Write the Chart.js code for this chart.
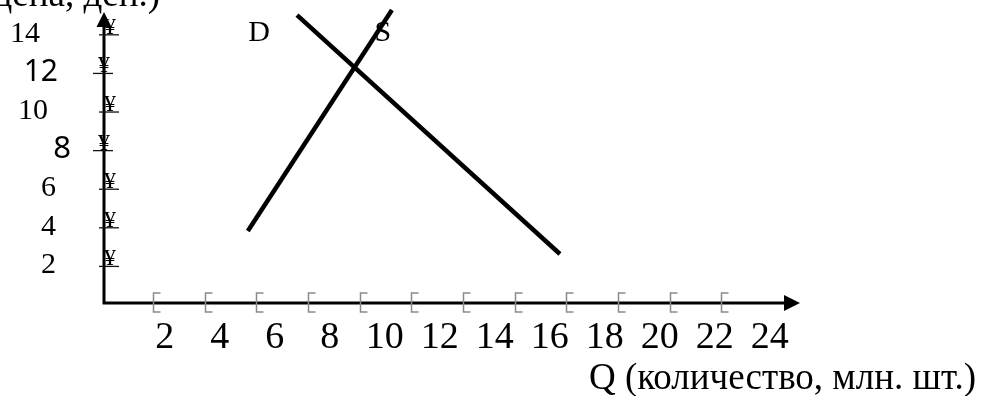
<!DOCTYPE html>
<html><head><meta charset="utf-8">
<script src="https://cdn.jsdelivr.net/npm/chart.js@4/dist/chart.umd.min.js"></script>
<style>html,body{margin:0;padding:0;background:#fff}canvas{display:block}</style>
</head><body>
<canvas id="c" width="984" height="396"></canvas>
<script>
// ---- data ----
const qTickLabels = [2, 4, 6, 8, 10, 12, 14, 16, 18, 20, 22, 24];
const pTickLabels = [14, 12, 10, 8, 6, 4, 2];
const qBracketMarks = [1.57, 3.45, 5.32, 7.2, 9.1, 10.95, 12.84, 14.73, 16.59, 18.48, 20.37, 22.23];
const demandQ = [6.81, 16.37];
const demandP = [14.92, 2.54];
const supplyQ = [5.02, 10.26];
const supplyP = [3.73, 15.18];
const curveNames = ['D', 'S'];
const curveNameQ = [5.43, 9.93];
const curveNameP = [14.0, 14.0];
const qTitle = 'Q (количество, млн. шт.)';
const pTitle = 'P (цена, ден.)';
const qRange = [-0.21, 25.1];
const pRange = [0, 15.08];

// ---- styling ----
const SERIF = '"Liberation Serif", "Times New Roman", serif';
const SANS = '"Noto Sans", "DejaVu Sans", sans-serif';
const pLabelStyle = {
  14: {right: 40, font: '30px ' + SERIF, mark: 0},
  12: {right: 58, font: '30px ' + SANS, mark: -6},
  10: {right: 48, font: '30px ' + SERIF, mark: 0},
  8:  {right: 71, font: '31px ' + SANS, mark: -6},
  6:  {right: 56, font: '30px ' + SERIF, mark: 0},
  4:  {right: 56, font: '30px ' + SERIF, mark: 0},
  2:  {right: 56, font: '30px ' + SERIF, mark: 0}
};

const toPts = (xs, ys) => xs.map((v, i) => ({x: v, y: ys[i]}));

const decor = {
  id: 'decor',
  afterDraw(chart) {
    const {ctx, chartArea: a, scales: {x, y}} = chart;
    ctx.save();
    // axes
    ctx.strokeStyle = '#000'; ctx.fillStyle = '#000'; ctx.lineWidth = 3;
    ctx.beginPath();
    ctx.moveTo(a.left, a.bottom + 1.5); ctx.lineTo(a.left, a.top + 12);
    ctx.moveTo(a.left - 1.5, a.bottom); ctx.lineTo(a.right - 14, a.bottom);
    ctx.stroke();
    ctx.beginPath();
    ctx.moveTo(a.left, a.top); ctx.lineTo(a.left - 7.5, a.top + 15); ctx.lineTo(a.left + 7.5, a.top + 15); ctx.closePath(); ctx.fill();
    ctx.beginPath();
    ctx.moveTo(a.right, a.bottom); ctx.lineTo(a.right - 16, a.bottom - 8); ctx.lineTo(a.right - 16, a.bottom + 8); ctx.closePath(); ctx.fill();

    // x bracket marks
    ctx.strokeStyle = '#8a8a8a'; ctx.lineWidth = 1.5;
    qBracketMarks.forEach(v => {
      const px = Math.round(x.getPixelForValue(v)) + 0.5;
      ctx.beginPath();
      ctx.moveTo(px + 7, a.bottom - 10); ctx.lineTo(px, a.bottom - 10);
      ctx.lineTo(px, a.bottom + 9); ctx.lineTo(px + 7, a.bottom + 9);
      ctx.stroke();
    });

    // x tick labels
    ctx.fillStyle = '#000';
    ctx.font = '38px ' + SERIF;
    ctx.textAlign = 'center'; ctx.textBaseline = 'alphabetic';
    qTickLabels.forEach(v => ctx.fillText(String(v), x.getPixelForValue(v), a.bottom + 45));

    // y tick marks and labels
    pTickLabels.forEach(v => {
      const st = pLabelStyle[v];
      const py = y.getPixelForValue(v);
      const mx = a.left + 6 + st.mark;
      ctx.fillStyle = '#000';
      ctx.font = '24px ' + SERIF; ctx.textAlign = 'center'; ctx.textBaseline = 'alphabetic';
      ctx.fillText('¥', mx, py + 1);
      ctx.lineWidth = 1.3; ctx.strokeStyle = '#111';
      ctx.beginPath(); ctx.moveTo(mx - 11, py + 2); ctx.lineTo(mx + 9, py + 2); ctx.stroke();
      ctx.font = st.font; ctx.textAlign = 'right'; ctx.textBaseline = 'middle';
      ctx.fillText(String(v), st.right, py + 1);
    });

    // curve names
    ctx.font = '30px ' + SERIF; ctx.textAlign = 'center'; ctx.textBaseline = 'middle';
    curveNames.forEach((n, i) => ctx.fillText(n, x.getPixelForValue(curveNameQ[i]), y.getPixelForValue(curveNameP[i])));

    // titles
    ctx.font = '37px ' + SERIF; ctx.textAlign = 'right'; ctx.textBaseline = 'alphabetic';
    ctx.fillText(qTitle, 976, 389);
    ctx.fillText(pTitle, 160, 6);
    ctx.restore();
  }
};

new Chart(document.getElementById('c'), {
  type: 'scatter',
  data: {
    datasets: [
      {label: curveNames[0], data: toPts(demandQ, demandP)},
      {label: curveNames[1], data: toPts(supplyQ, supplyP)}
    ].map(d => Object.assign(d, {showLine: true, borderColor: '#000', backgroundColor: '#000', borderWidth: 4.5, pointRadius: 0, clip: false, borderCapStyle: 'butt'}))
  },
  options: {
    responsive: false,
    animation: false,
    devicePixelRatio: 1,
    layout: {padding: {left: 104, right: 184, top: 12, bottom: 93}},
    plugins: {legend: {display: false}, tooltip: {enabled: false}},
    scales: {
      x: {type: 'linear', min: qRange[0], max: qRange[1], display: false},
      y: {type: 'linear', min: pRange[0], max: pRange[1], display: false}
    }
  },
  plugins: [decor]
});
</script>
</body></html>
